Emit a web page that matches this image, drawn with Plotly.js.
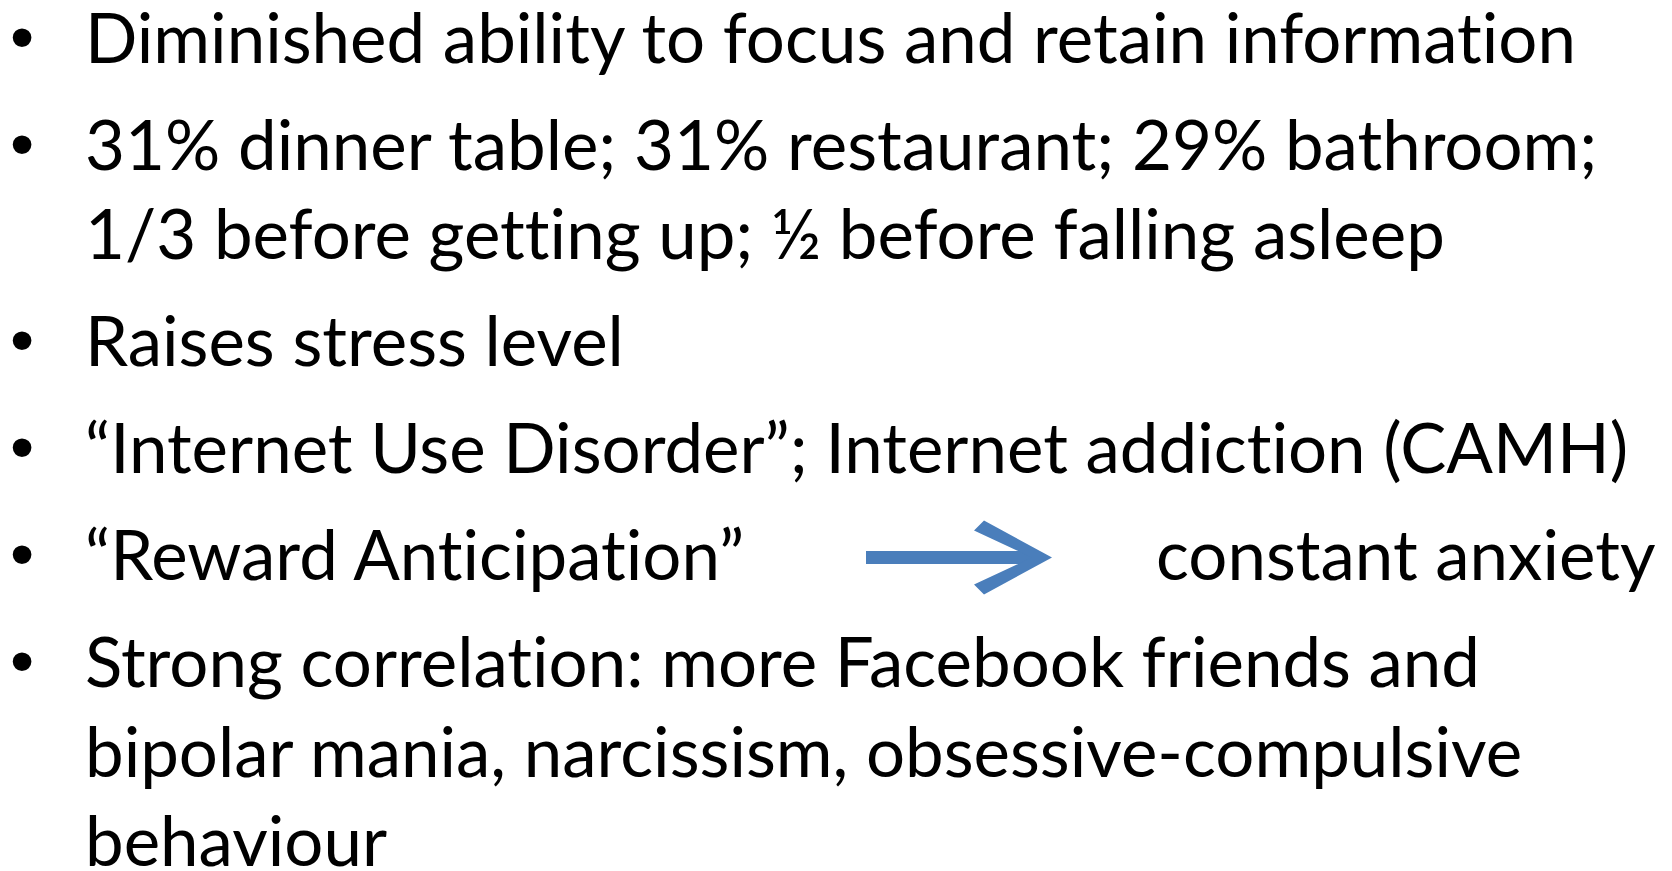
<!DOCTYPE html>
<html>
<head>
<meta charset="utf-8">
<script src="https://cdn.plot.ly/plotly-3.0.1.min.js"></script>
<style>
html,body{margin:0;padding:0;background:#fff;}
#chart{width:1672px;height:871px;}
text{font-variant-ligatures:none;font-feature-settings:"liga" 0,"clig" 0;}
</style>
</head>
<body>
<div id="chart"></div>
<script>
// Slide content: each bullet is a list of wrapped lines
const bullet1 = ["Diminished ability to focus and retain information"];
const bullet2 = ["31% dinner table; 31% restaurant; 29% bathroom;", "1/3 before getting up; ½ before falling asleep"];
const bullet3 = ["Raises stress level"];
const bullet4 = ["“Internet Use Disorder”; Internet addiction (CAMH)"];
const bullet5 = ["“Reward Anticipation”"];
const bullet5Target = "constant anxiety";
const bullet6 = ["Strong correlation: more Facebook friends and", "bipolar mania, narcissism, obsessive-compulsive", "behaviour"];
const bullets = [bullet1, bullet2, bullet3, bullet4, bullet5, bullet6];

const W = 1672, H = 871;
const FONT = "Lato, 'Noto Sans', sans-serif";
const SIZE = 69;
const firstBaseline = 62, lineGap = 89.5, paraGap = 107;
const textX = 83, bulletX = 22;
const K = 0.375;

const annotations = [];
let baseline = firstBaseline;
let arrowBaseline = null;
bullets.forEach((lines, bi) => {
  if (bi > 0) baseline += paraGap - lineGap;
  lines.forEach((ln, li) => {
    if (!(bi === 0 && li === 0)) baseline += lineGap;
    const yc = baseline - K * SIZE;
    if (li === 0) {
      annotations.push({x: bulletX, y: yc, xref: 'x', yref: 'y', text: '•', showarrow: false,
        xanchor: 'center', yanchor: 'middle', font: {family: "'Liberation Sans', Arial, sans-serif", size: SIZE, color: '#000'}});
    }
    annotations.push({x: textX, y: yc, xref: 'x', yref: 'y', text: ln, showarrow: false,
      xanchor: 'left', yanchor: 'middle', font: {family: FONT, size: SIZE, color: '#000'}});
    if (lines === bullet5) arrowBaseline = baseline;
  });
});
annotations.push({x: 1658, y: arrowBaseline - K * SIZE, xref: 'x', yref: 'y', text: bullet5Target, showarrow: false,
  xanchor: 'right', yanchor: 'middle', font: {family: FONT, size: SIZE, color: '#000'}});
const arrowY = arrowBaseline - 22;

const blue = '#4A7EBB';
const shapes = [
  {type: 'rect', xref: 'x', yref: 'y', x0: 866, x1: 1040, y0: arrowY - 6.5, y1: arrowY + 6.5, fillcolor: blue, line: {width: 0}},
  {type: 'path', xref: 'x', yref: 'y',
   path: `M 1052 ${arrowY} L 984 ${arrowY-37} L 974 ${arrowY-27} L 1032 ${arrowY} L 974 ${arrowY+27} L 984 ${arrowY+37} Z`,
   fillcolor: blue, line: {width: 0}}
];

const layout = {
  width: W, height: H,
  margin: {l: 0, r: 0, t: 0, b: 0},
  paper_bgcolor: '#fff', plot_bgcolor: '#fff',
  xaxis: {range: [0, W], visible: false, fixedrange: true},
  yaxis: {range: [H, 0], visible: false, fixedrange: true},
  showlegend: false,
  annotations: annotations,
  shapes: shapes
};
Plotly.newPlot('chart', [], layout, {displayModeBar: false, staticPlot: true});
</script>
</body>
</html>
